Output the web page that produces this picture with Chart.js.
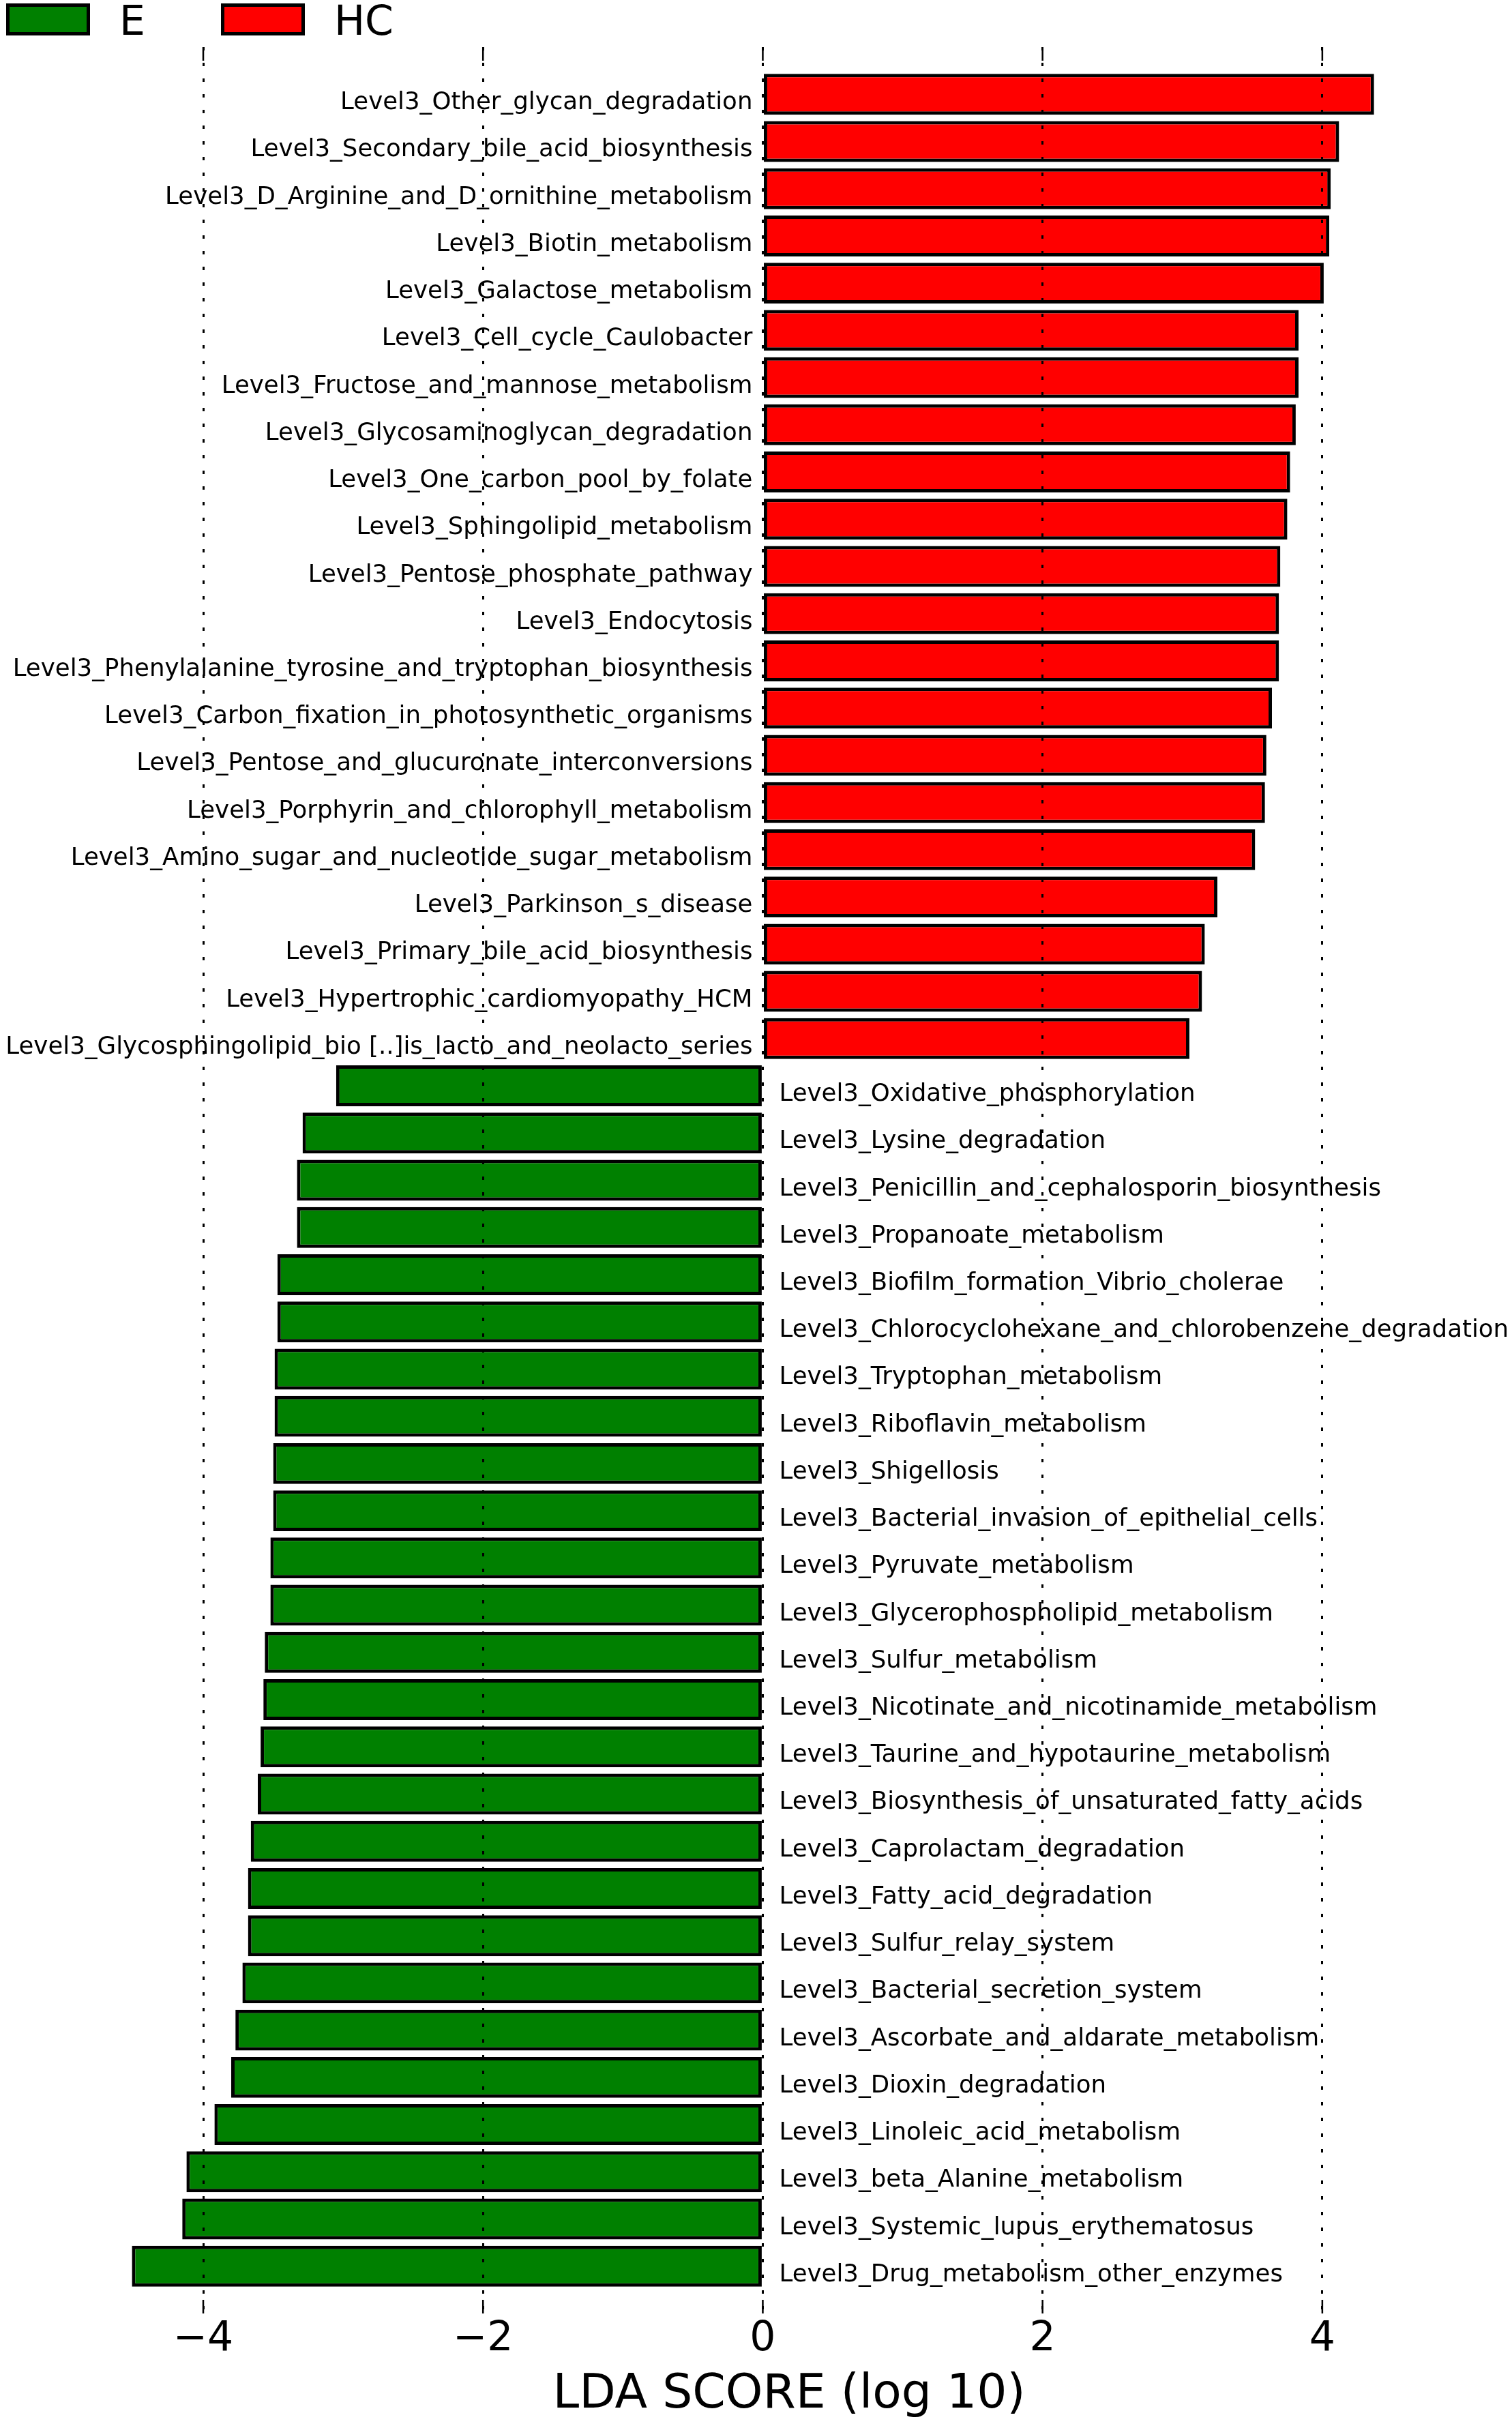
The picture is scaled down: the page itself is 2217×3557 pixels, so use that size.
<!DOCTYPE html>
<html>
<head>
<meta charset="utf-8">
<script src="https://cdn.jsdelivr.net/npm/chart.js@4.4.1/dist/chart.umd.min.js"></script>
<style>
  html, body { margin: 0; padding: 0; background: #fff; }
  #wrap { width: 2217px; height: 3557px; position: relative; }
</style>
</head>
<body>
<div id="wrap"><canvas id="lefseChart"></canvas></div>
<script>
// LEfSe result, HC-enriched features (top block)
const hcLabels = [
  "Level3_Other_glycan_degradation",
  "Level3_Secondary_bile_acid_biosynthesis",
  "Level3_D_Arginine_and_D_ornithine_metabolism",
  "Level3_Biotin_metabolism",
  "Level3_Galactose_metabolism",
  "Level3_Cell_cycle_Caulobacter",
  "Level3_Fructose_and_mannose_metabolism",
  "Level3_Glycosaminoglycan_degradation",
  "Level3_One_carbon_pool_by_folate",
  "Level3_Sphingolipid_metabolism",
  "Level3_Pentose_phosphate_pathway",
  "Level3_Endocytosis",
  "Level3_Phenylalanine_tyrosine_and_tryptophan_biosynthesis",
  "Level3_Carbon_fixation_in_photosynthetic_organisms",
  "Level3_Pentose_and_glucuronate_interconversions",
  "Level3_Porphyrin_and_chlorophyll_metabolism",
  "Level3_Amino_sugar_and_nucleotide_sugar_metabolism",
  "Level3_Parkinson_s_disease",
  "Level3_Primary_bile_acid_biosynthesis",
  "Level3_Hypertrophic_cardiomyopathy_HCM",
  "Level3_Glycosphingolipid_bio [..]is_lacto_and_neolacto_series"
];
const hcScores = [4.37, 4.12, 4.06, 4.05, 4.01, 3.83, 3.83, 3.81, 3.77, 3.75, 3.70,
                  3.69, 3.69, 3.64, 3.60, 3.59, 3.52, 3.25, 3.16, 3.14, 3.05];

// E-enriched features (bottom block, plotted to the left)
const eLabels = [
  "Level3_Oxidative_phosphorylation",
  "Level3_Lysine_degradation",
  "Level3_Penicillin_and_cephalosporin_biosynthesis",
  "Level3_Propanoate_metabolism",
  "Level3_Biofilm_formation_Vibrio_cholerae",
  "Level3_Chlorocyclohexane_and_chlorobenzene_degradation",
  "Level3_Tryptophan_metabolism",
  "Level3_Riboflavin_metabolism",
  "Level3_Shigellosis",
  "Level3_Bacterial_invasion_of_epithelial_cells",
  "Level3_Pyruvate_metabolism",
  "Level3_Glycerophospholipid_metabolism",
  "Level3_Sulfur_metabolism",
  "Level3_Nicotinate_and_nicotinamide_metabolism",
  "Level3_Taurine_and_hypotaurine_metabolism",
  "Level3_Biosynthesis_of_unsaturated_fatty_acids",
  "Level3_Caprolactam_degradation",
  "Level3_Fatty_acid_degradation",
  "Level3_Sulfur_relay_system",
  "Level3_Bacterial_secretion_system",
  "Level3_Ascorbate_and_aldarate_metabolism",
  "Level3_Dioxin_degradation",
  "Level3_Linoleic_acid_metabolism",
  "Level3_beta_Alanine_metabolism",
  "Level3_Systemic_lupus_erythematosus",
  "Level3_Drug_metabolism_other_enzymes"
];
const eScores = [-3.05, -3.29, -3.33, -3.33, -3.47, -3.47, -3.49, -3.49, -3.50, -3.50,
                 -3.52, -3.52, -3.56, -3.57, -3.59, -3.61, -3.66, -3.68, -3.68, -3.72,
                 -3.77, -3.80, -3.92, -4.12, -4.15, -4.51];

const classNames = ["E", "HC"];
const classColors = ["#008000", "#ff0000"];
const xTicks = [-4, -2, 0, 2, 4];
const axisTitle = "LDA SCORE (log 10)";

const FONT = '"DejaVu Sans", "Liberation Sans", sans-serif';

// one row per feature, top to bottom
const names = hcLabels.concat(eLabels);
const scores = hcScores.concat(eScores);
const rowClass = hcLabels.map(() => 1).concat(eLabels.map(() => 0));

// feature names sit next to the zero line, on the side opposite the bar
const barLabels = {
  id: "barLabels",
  afterDatasetsDraw(chart) {
    const { ctx, scales: { x, y } } = chart;
    const x0 = x.getPixelForValue(0);
    ctx.save();
    ctx.font = "35.6px " + FONT;
    ctx.fillStyle = "#000";
    ctx.textBaseline = "alphabetic";
    names.forEach((name, i) => {
      const py = y.getPixelForValue(i) + 22;
      if (scores[i] >= 0) {
        ctx.textAlign = "right";
        ctx.fillText(name, x0 - 15, py);
      } else {
        ctx.textAlign = "left";
        ctx.fillText(name, x0 + 24, py);
      }
    });
    ctx.restore();
  }
};

// short solid ticks pointing inward at top and bottom of the axes
const innerTicks = {
  id: "innerTicks",
  afterDraw(chart) {
    const { ctx, chartArea, scales: { x } } = chart;
    ctx.save();
    ctx.strokeStyle = "#000";
    ctx.lineWidth = 2.5;
    x.ticks.forEach(t => {
      const px = x.getPixelForValue(t.value);
      ctx.beginPath();
      ctx.moveTo(px, chartArea.top);
      ctx.lineTo(px, chartArea.top + 20);
      ctx.moveTo(px, chartArea.bottom);
      ctx.lineTo(px, chartArea.bottom - 20);
      ctx.stroke();
    });
    ctx.restore();
  }
};

// class legend in the top-left corner
const classLegend = {
  id: "classLegend",
  afterDraw(chart) {
    const ctx = chart.ctx;
    ctx.save();
    ctx.font = "60px " + FONT;
    ctx.textBaseline = "alphabetic";
    ctx.textAlign = "left";
    classNames.forEach((name, k) => {
      const bx = 9 + k * 315;
      ctx.fillStyle = "#000";
      ctx.fillRect(bx, 5, 123, 47);
      ctx.fillStyle = classColors[k];
      ctx.fillRect(bx + 5, 10, 113, 37);
      ctx.fillStyle = "#000";
      ctx.fillText(name, bx + 166, 51);
    });
    ctx.restore();
  }
};

const ctx = document.getElementById("lefseChart").getContext("2d");

new Chart(ctx, {
  type: "bar",
  data: {
    datasets: [{
      label: "LDA",
      data: scores.map((v, i) => ({ x: v, y: i })),
      backgroundColor: rowClass.map(c => classColors[c]),
      borderColor: "#000",
      borderWidth: 5,
      borderSkipped: false,
      categoryPercentage: 1,
      barPercentage: 0.866
    }]
  },
  options: {
    indexAxis: "y",
    responsive: true,
    maintainAspectRatio: false,
    devicePixelRatio: 1,
    animation: false,
    layout: { padding: { top: 69, left: 97, right: 0, bottom: 0 } },
    plugins: {
      legend: { display: false },
      tooltip: { enabled: false }
    },
    scales: {
      y: {
        type: "linear",
        reverse: true,
        offset: false,
        grid: { offset: false },
        min: -1,
        max: names.length,
        display: false
      },
      x: {
        type: "linear",
        min: -4.98,
        max: 5.356,
        afterBuildTicks: s => { s.ticks = xTicks.map(v => ({ value: v })); },
        afterFit: s => { s.height = 165; },
        grid: { color: "#000", lineWidth: 3, drawTicks: false, z: 1 },
        border: { display: false, dash: [5, 18] },
        ticks: {
          color: "#000",
          padding: 2,
          font: { family: FONT, size: 60 },
          callback: v => (v < 0 ? "\u2212" + Math.abs(v) : String(v))
        },
        title: {
          display: true,
          text: axisTitle,
          color: "#000",
          font: { family: FONT, size: 69.5 },
          padding: { top: 4, bottom: 3 }
        }
      }
    }
  },
  plugins: [barLabels, innerTicks, classLegend]
});
</script>
</body>
</html>
